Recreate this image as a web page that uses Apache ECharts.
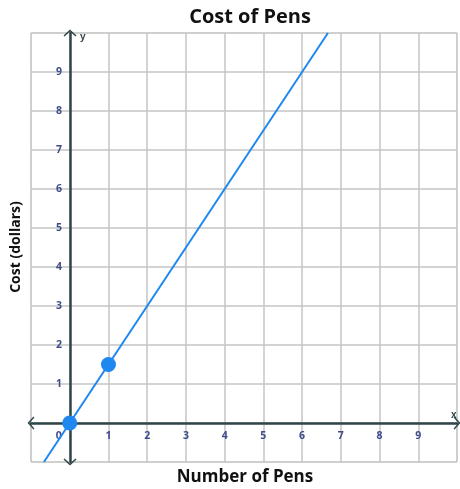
<!DOCTYPE html>
<html>
<head>
<meta charset="utf-8">
<script src="https://cdn.jsdelivr.net/npm/echarts@6/dist/echarts.min.js"></script>
<style>
  html, body { margin: 0; padding: 0; background: #fff; }
  #chart { width: 460px; height: 489px; }
</style>
</head>
<body>
<div id="chart"></div>
<script>
/* ---------- data ---------- */
const pens = [0, 1];                 // marked points (x)
const cost = [0, 1.5];               // marked points (y)
const pricePerPen = 1.5;             // slope of the line
const axisMin = -1, axisMax = 10;
const tickLabels = ["1", "2", "3", "4", "5", "6", "7", "8", "9"];

const TICK = "#3e4d8a";
const AXIS = "#2f4548";
const BLUE = "#1f87f0";
const GRIDC = "#c4c4c4";

// the line runs over the whole y range
const lineData = [axisMin, axisMax].map((y) => [y / pricePerPen, y]);

// chevron arrow (drawn as thin filled shape)
const chevron = "path://M0,0 L10,9 L8.4,10.6 L0,3 L-8.4,10.6 L-10,9 Z";

const chart = echarts.init(document.getElementById("chart"), null, { renderer: "canvas" });

function tickFmt(v, isX) {
  if (v === 0) return isX ? "{z|0}" : "";
  return tickLabels.includes(String(v)) ? String(v) : "";
}

// the axes sit on zero: one grid cell in from the bottom / left edge
const cell = 429 / (axisMax - axisMin);

const tickFont = { fontSize: 10.5, fontWeight: "bold", color: TICK, fontFamily: "Open Sans" };

chart.setOption({
  animation: false,
  title: {
    text: "Cost of Pens",
    left: 245, top: 2, textAlign: "center",
    textStyle: { fontFamily: "Open Sans", fontWeight: "bold", fontSize: 20, color: "#111" },
  },
  grid: { left: 31, top: 33, width: 429, height: 429, show: true, borderColor: "#e2e2e2", borderWidth: 1 },
  xAxis: {
    type: "value", min: axisMin, max: axisMax, interval: 1,
    offset: -cell,
    axisLine: { show: true, onZero: false, symbol: [chevron, chevron], symbolSize: [13, 11], lineStyle: { color: AXIS, width: 2.5 } },
    axisTick: { show: false },
    splitLine: { lineStyle: { color: GRIDC, width: 1.5 } },
    axisLabel: Object.assign({
      margin: 8,
      formatter: (v) => tickFmt(v, true),
      rich: { z: Object.assign({ padding: [0, 22, 0, 0] }, tickFont) },
    }, tickFont),
    name: "x", nameLocation: "end", nameGap: -6,
    nameTextStyle: { fontSize: 10, fontWeight: "bold", color: AXIS, verticalAlign: "bottom", padding: [0, 0, 3, 0] },
  },
  yAxis: {
    type: "value", min: axisMin, max: axisMax, interval: 1,
    offset: -cell,
    axisLine: { show: true, onZero: false, symbol: [chevron, chevron], symbolSize: [13, 11], lineStyle: { color: AXIS, width: 2.5 } },
    axisTick: { show: false },
    splitLine: { lineStyle: { color: GRIDC, width: 1.5 } },
    axisLabel: Object.assign({
      margin: 8,
      formatter: (v) => tickFmt(v, false),
    }, tickFont),
    name: "y", nameLocation: "end", nameGap: -9,
    nameTextStyle: { fontSize: 10, fontWeight: "bold", color: AXIS, align: "left", padding: [0, 0, 0, 10] },
  },
  graphic: [
    {
      type: "text", x: 245, y: 477,
      style: { text: "Number of Pens", font: "bold 17px 'Open Sans'", fill: "#111", textAlign: "center", textVerticalAlign: "middle" },
    },
    {
      type: "text", rotation: Math.PI / 2, x: 16, y: 247,
      style: { text: "Cost (dollars)", font: "bold 14px 'Open Sans'", fill: "#111", textAlign: "center", textVerticalAlign: "middle" },
    },
  ],
  series: [
    {
      type: "line", data: lineData, showSymbol: false, silent: true,
      lineStyle: { color: BLUE, width: 2 }, z: 3,
    },
    {
      type: "scatter", data: pens.map((x, i) => [x, cost[i]]),
      symbolSize: 15, itemStyle: { color: BLUE, opacity: 1 }, z: 4,
    },
  ],
});
</script>
</body>
</html>
